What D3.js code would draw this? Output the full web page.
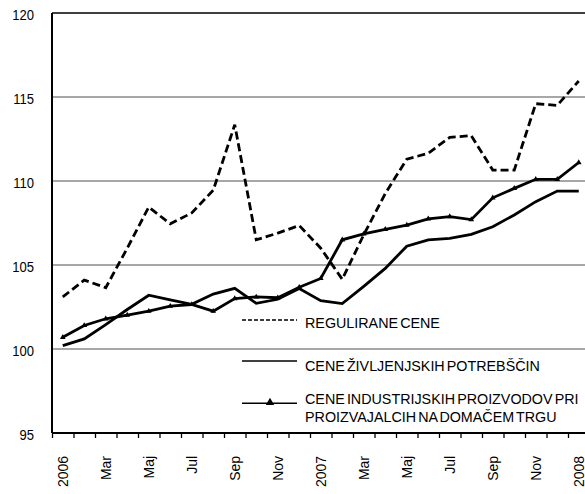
<!DOCTYPE html>
<html>
<head>
<meta charset="utf-8">
<script src="https://cdn.jsdelivr.net/npm/d3@7"></script>
<style>
  body { margin: 0; background: #fff; }
  svg text { font-family: "Liberation Sans", Arial, sans-serif; fill: #000; }
</style>
</head>
<body>
<div class="chart"></div>
<script>
// month labels, Jan 2006 .. Jan 2008
var months = ["2006", "Feb", "Mar", "Apr", "Maj", "Jun", "Jul", "Avg", "Sep", "Okt", "Nov", "Dec",
              "2007", "Feb", "Mar", "Apr", "Maj", "Jun", "Jul", "Avg", "Sep", "Okt", "Nov", "Dec", "2008"];

var regulirane = [103.1, 104.1, 103.65, 106.0, 108.45, 107.45, 108.1, 109.45, 113.35, 106.5, 106.9, 107.35,
                  106.0, 104.15, 106.8, 109.25, 111.3, 111.65, 112.6, 112.7, 110.65, 110.65, 114.6, 114.5, 115.95];

var zivljenjske = [100.2, 100.6, 101.45, 102.35, 103.2, 102.92, 102.66, 103.27, 103.61, 102.72, 102.96, 103.6,
                   102.88, 102.7, 103.73, 104.8, 106.12, 106.49, 106.59, 106.82, 107.28, 107.98, 108.77, 109.4, 109.4];

var industrijske = [100.7, 101.4, 101.8, 102.02, 102.25, 102.55, 102.65, 102.25, 103.0, 103.1, 103.05, 103.68,
                    104.2, 106.5, 106.85, 107.12, 107.38, 107.75, 107.88, 107.7, 109.0, 109.56, 110.1, 110.1, 111.1];

var yTicks = [95, 100, 105, 110, 115, 120];

var legendLabels = ["REGULIRANE CENE", "CENE ŽIVLJENJSKIH POTREBŠČIN",
                    ["CENE INDUSTRIJSKIH PROIZVODOV PRI", "PROIZVAJALCIH NA DOMAČEM TRGU"]];

var margin = {top: 13, left: 52},
    width = 537.5,
    height = 420;

var svg = d3.select(".chart").append("svg")
    .attr("width", 585)
    .attr("height", 494)
  .append("g")
    .attr("transform", "translate(" + margin.left + "," + margin.top + ")");

var x = d3.scaleBand()
    .domain(d3.range(months.length))
    .range([0, width]);

var xEdge = d3.scaleLinear()
    .domain([0, months.length])
    .range([0, width]);

var y = d3.scaleLinear()
    .domain([95, 120])
    .range([height, 0]);

// grid lines
svg.selectAll(".grid")
    .data(yTicks.filter(function(d) { return d > 95 && d < 120; }))
  .enter().append("line")
    .attr("x1", 0)
    .attr("x2", width)
    .attr("y1", function(d) { return y(d); })
    .attr("y2", function(d) { return y(d); })
    .style("stroke", "#8a8a8a")
    .style("stroke-width", 1.3);

// top border
svg.append("line")
    .attr("x1", 0).attr("x2", width)
    .attr("y1", y(120)).attr("y2", y(120))
    .style("stroke", "#000").style("stroke-width", 1.4);

// y labels (narrow glyphs like the original)
svg.selectAll(".ylab")
    .data(yTicks)
  .enter().append("text")
    .attr("transform", function(d) { return "translate(-18," + (y(d) + 2) + ") scale(0.88,1)"; })
    .attr("dy", "0.35em")
    .attr("text-anchor", "end")
    .style("font-size", "14.8px")
    .text(function(d) { return d; });

// x tick marks at category edges
var xTicks = d3.axisBottom(xEdge)
    .tickValues(d3.range(months.length + 1))
    .tickSize(5)
    .tickFormat("");

svg.append("g")
    .attr("transform", "translate(0," + height + ")")
    .call(xTicks)
    .call(function(g) {
      g.select(".domain").remove();
      g.selectAll("line").style("stroke", "#000").style("stroke-width", 1.3);
    });

// x labels, every second month
svg.selectAll(".xlab")
    .data(months)
  .enter().append("text")
    .filter(function(d, i) { return i % 2 === 0; })
    .attr("transform", function(d, i) {
      return "translate(" + (x(i * 2) + x.bandwidth() / 2) + "," + (height + 23) + ") rotate(-90) scale(0.9,1)";
    })
    .attr("dy", "0.35em")
    .attr("text-anchor", "end")
    .style("font-size", "15.5px")
    .text(function(d) { return d; });

// axes lines
svg.append("line")
    .attr("x1", 0).attr("x2", width)
    .attr("y1", height).attr("y2", height)
    .style("stroke", "#000").style("stroke-width", 2);
svg.append("line")
    .attr("x1", 0).attr("x2", 0)
    .attr("y1", 0).attr("y2", height)
    .style("stroke", "#000").style("stroke-width", 2);

var line = d3.line()
    .x(function(d, i) { return x(i) + x.bandwidth() / 2; })
    .y(function(d) { return y(d); });

svg.append("path")
    .datum(regulirane)
    .attr("d", line)
    .style("fill", "none")
    .style("stroke", "#000")
    .style("stroke-width", 2.8)
    .style("stroke-dasharray", "8,4");

svg.append("path")
    .datum(zivljenjske)
    .attr("d", line)
    .style("fill", "none")
    .style("stroke", "#000")
    .style("stroke-width", 2.8);

svg.append("path")
    .datum(industrijske)
    .attr("d", line)
    .style("fill", "none")
    .style("stroke", "#000")
    .style("stroke-width", 2.8);

var tri = d3.symbol().type(d3.symbolTriangle);

svg.selectAll(".marker")
    .data(industrijske)
  .enter().append("path")
    .attr("d", tri.size(14))
    .attr("transform", function(d, i) {
      return "translate(" + (x(i) + x.bandwidth() / 2) + "," + y(d) + ")";
    })
    .style("fill", "#000");

// legend
var legend = svg.append("g").attr("transform", "translate(190,0)");
var lx1 = 0, lx2 = 55;

legend.append("line")
    .attr("x1", lx1).attr("x2", lx2)
    .attr("y1", 307).attr("y2", 307)
    .style("stroke", "#000").style("stroke-width", 1.3)
    .style("stroke-dasharray", "4,2");
legend.append("line")
    .attr("x1", lx1).attr("x2", lx2)
    .attr("y1", 348).attr("y2", 348)
    .style("stroke", "#000").style("stroke-width", 1.5);
legend.append("line")
    .attr("x1", lx1).attr("x2", lx2)
    .attr("y1", 390.3).attr("y2", 390.3)
    .style("stroke", "#000").style("stroke-width", 1.5);
legend.append("path")
    .attr("d", tri.size(30))
    .attr("transform", "translate(28,389.5)")
    .style("fill", "#000");

var legendY = [314.7, 357.7, 391.3];
legendLabels.forEach(function(lab, k) {
  var t = legend.append("text")
      .attr("transform", "translate(63," + legendY[k] + ") scale(0.93,1)")
      .style("font-size", "15.4px")
      .style("word-spacing", "-2px");
  var lines = Array.isArray(lab) ? lab : [lab];
  lines.forEach(function(s, j) {
    t.append("tspan")
        .attr("x", 0)
        .attr("dy", j === 0 ? 0 : 17.4)
        .text(s);
  });
});
</script>
</body>
</html>
